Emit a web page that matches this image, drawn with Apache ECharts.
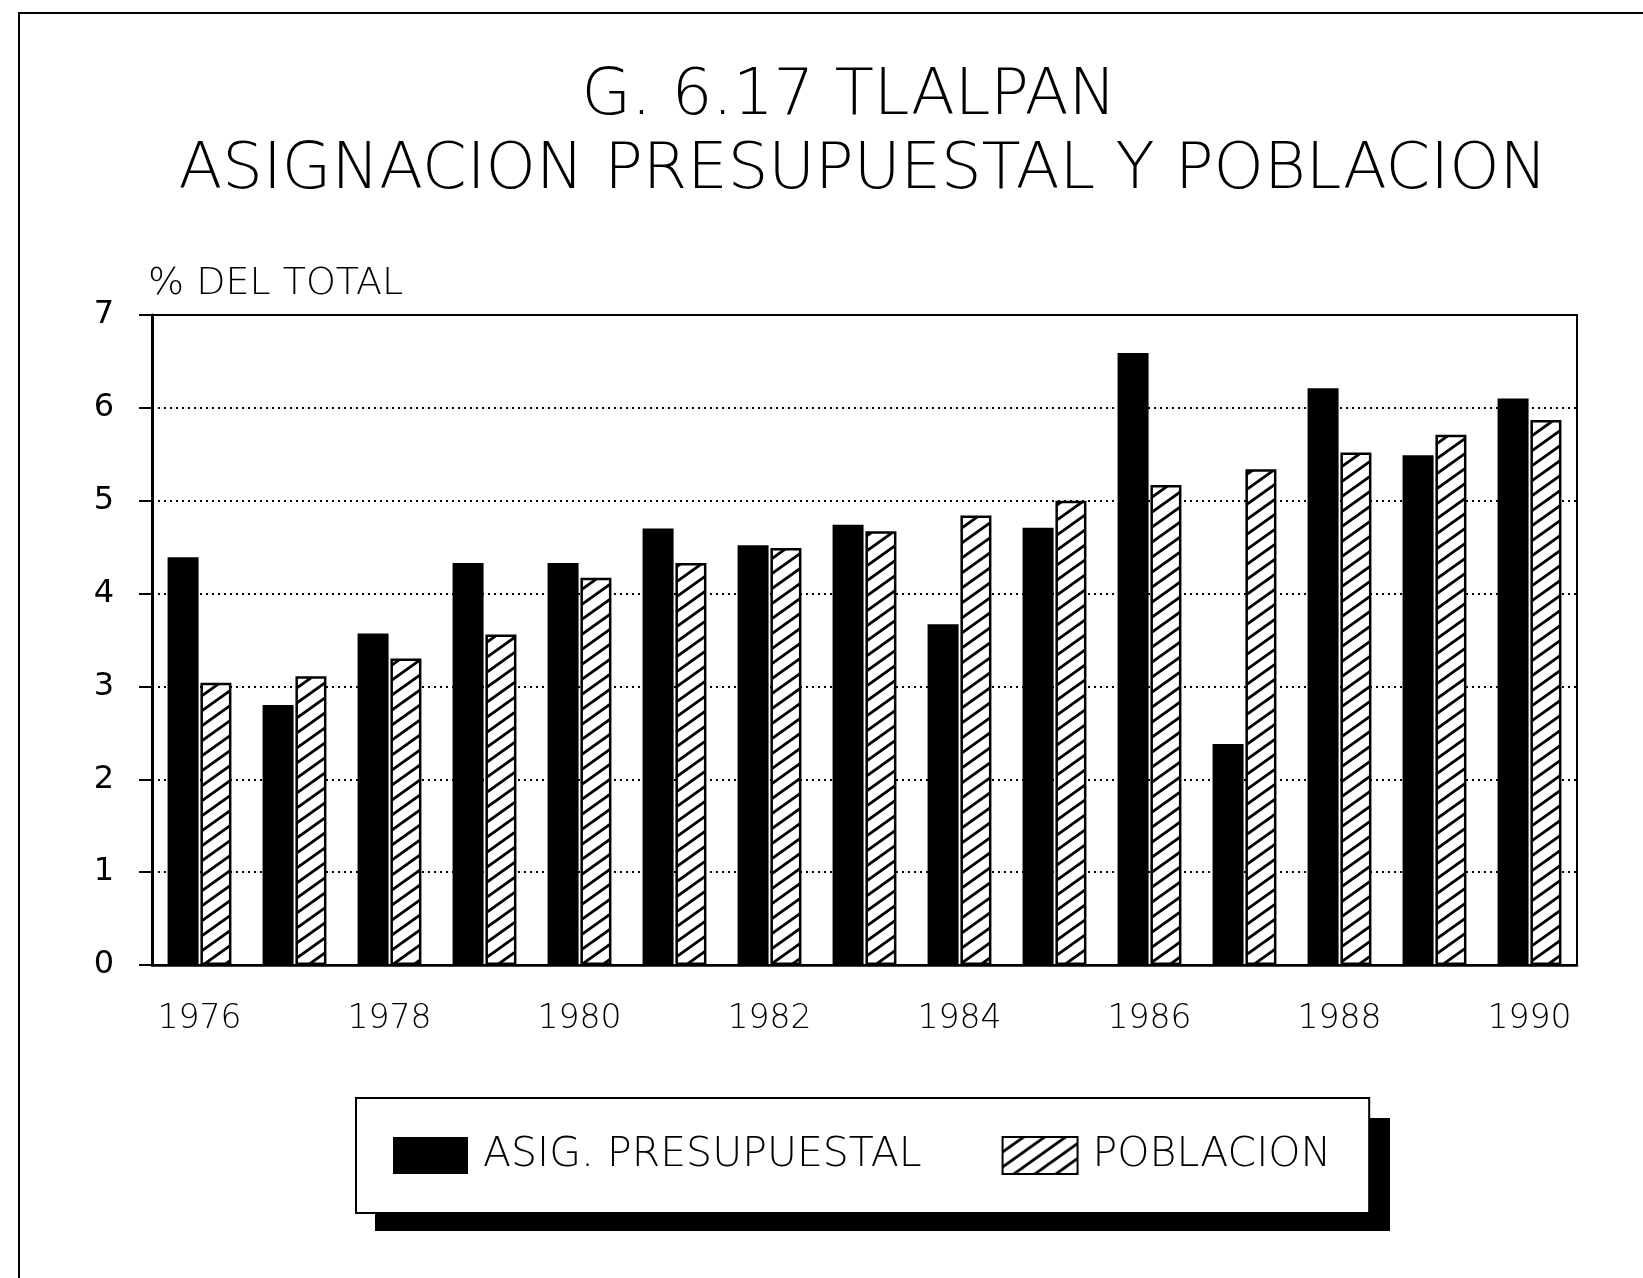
<!DOCTYPE html>
<html>
<head>
<meta charset="utf-8">
<title>G. 6.17 Tlalpan</title>
<script src="https://cdn.jsdelivr.net/npm/echarts@6/dist/echarts.min.js"></script>
<style>
  html, body { margin: 0; padding: 0; background: #fff; }
  #main { width: 1643px; height: 1278px; }
</style>
</head>
<body>
<div id="main"></div>
<script>
// datos (% del total)
var years = ['1976', '1977', '1978', '1979', '1980', '1981', '1982', '1983',
             '1984', '1985', '1986', '1987', '1988', '1989', '1990'];
var asigPresupuestal = [4.39, 2.80, 3.57, 4.33, 4.33, 4.70, 4.52, 4.74,
                        3.67, 4.71, 6.59, 2.38, 6.21, 5.49, 6.10];
var poblacion = [3.04, 3.11, 3.30, 3.56, 4.17, 4.33, 4.49, 4.67,
                 4.84, 5.00, 5.17, 5.34, 5.52, 5.71, 5.87];

var FONT = "'DejaVu Sans', sans-serif";

// trama diagonal para la serie de poblacion
function hatch() {
  var w = 21, h = 15;
  var c = document.createElement('canvas');
  c.width = w; c.height = h;
  var ctx = c.getContext('2d');
  ctx.fillStyle = '#fff';
  ctx.fillRect(0, 0, w, h);
  ctx.strokeStyle = '#000';
  ctx.lineWidth = 2.8;
  ctx.beginPath();
  // la misma recta y sus vecinas para que la trama empalme
  [-1, 0, 1].forEach(function (k) {
    ctx.moveTo(-w, h + h + k * h);
    ctx.lineTo(2 * w, -h + k * h);
  });
  ctx.stroke();
  return c;
}
var hatchFill = { image: hatch(), repeat: 'repeat' };

var myChart = echarts.init(document.getElementById('main'));
var option = {
  backgroundColor: '#fff',
  animation: false,
  graphic: [
    {
      type: 'rect',
      shape: { x: 19, y: 13, width: 1700, height: 1400 },
      style: { fill: 'none', stroke: '#000', lineWidth: 2 },
      silent: true
    },
    {
      type: 'text', x: 849, y: 97,
      style: {
        text: 'G. 6.17 TLALPAN', fill: '#000', font: '200 64px ' + FONT,
        textAlign: 'center', textVerticalAlign: 'middle'
      }
    },
    {
      type: 'text', x: 863, y: 171,
      style: {
        text: 'ASIGNACION PRESUPUESTAL Y POBLACION', fill: '#000', font: '200 64px ' + FONT,
        textAlign: 'center', textVerticalAlign: 'middle'
      }
    },
    // sombra de la caja de leyenda
    {
      type: 'rect', z: 0,
      shape: { x: 375, y: 1118, width: 1015, height: 113 },
      style: { fill: '#000' },
      silent: true
    }
  ],
  legend: {
    left: 356,
    top: 1098,
    z: 10,
    padding: [33, 38, 33, 37],
    itemWidth: 75,
    itemHeight: 37,
    itemGap: 80,
    backgroundColor: '#fff',
    borderColor: '#000',
    borderWidth: 2,
    icon: 'rect',
    textStyle: {
      fontFamily: FONT, fontWeight: 200, fontSize: 41, lineHeight: 37, color: '#000',
      padding: [12, 0, 0, 10]
    },
    data: ['ASIG. PRESUPUESTAL', 'POBLACION']
  },
  grid: {
    left: 152,
    right: 66,
    top: 315,
    bottom: 313,
    show: true,
    borderColor: '#000',
    borderWidth: 2
  },
  xAxis: {
    type: 'category',
    data: years,
    axisLine: { lineStyle: { color: '#000', width: 2.5 } },
    axisTick: { alignWithLabel: true, interval: 0, length: 15, lineStyle: { color: '#000', width: 2 } },
    axisLabel: { interval: 1, margin: 38, fontFamily: FONT, fontWeight: 200, fontSize: 33, color: '#000' },
    splitLine: { show: false }
  },
  yAxis: {
    type: 'value',
    min: 0,
    max: 7,
    interval: 1,
    name: '% DEL TOTAL',
    nameLocation: 'end',
    nameGap: 12,
    nameTextStyle: {
      align: 'left', fontFamily: FONT, fontWeight: 200, fontSize: 38, color: '#000',
      padding: [0, 0, 0, -4]
    },
    axisLine: { show: true, lineStyle: { color: '#000', width: 3 } },
    axisTick: { show: true, length: 13, lineStyle: { color: '#000', width: 2 } },
    axisLabel: { margin: 38, fontFamily: FONT, fontSize: 32, color: '#000' },
    splitLine: { show: true, lineStyle: { color: '#000', width: 2, type: [2, 4] } }
  },
  series: [
    {
      name: 'ASIG. PRESUPUESTAL',
      type: 'bar',
      barWidth: 31,
      barGap: '6%',
      itemStyle: { color: '#000' },
      data: asigPresupuestal
    },
    {
      name: 'POBLACION',
      type: 'bar',
      barWidth: 31,
      barGap: '6%',
      itemStyle: { color: hatchFill, borderColor: '#000', borderWidth: 2.5 },
      data: poblacion
    }
  ]
};
myChart.setOption(option);
</script>
</body>
</html>
